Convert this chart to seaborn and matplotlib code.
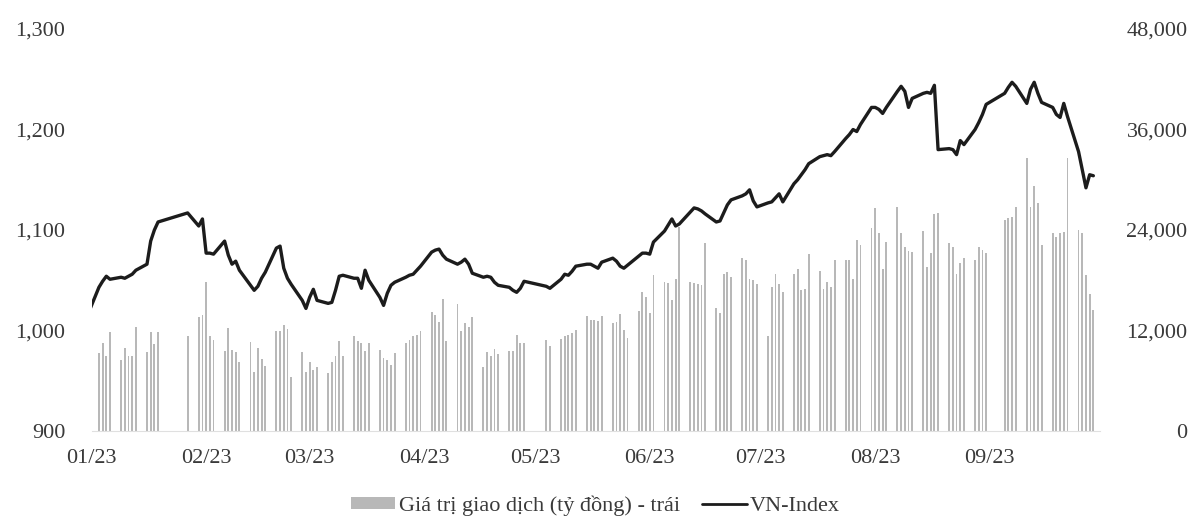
import numpy as np
import pandas as pd
import matplotlib
matplotlib.use("Agg")
import matplotlib.pyplot as plt
from matplotlib.patches import Patch
from matplotlib.lines import Line2D
import seaborn as sns

# ---------------- data ----------------
holidays = ["2023-01-20", "2023-01-23", "2023-01-24", "2023-01-25", "2023-01-26",
            "2023-05-01", "2023-05-02", "2023-05-03", "2023-09-01", "2023-09-04"]
start_date = "2023-01-03"
end_date = "2023-09-29"
prev_date = "2022-12-30"
prev_index = 1007

vnindex_jan = [1043, 1049, 1054, 1051, 1053, 1052, 1054, 1056, 1060, 1066, 1089, 1100, 1108, 1117, 1104, 1111]
vnindex_feb = [1077, 1077, 1076, 1089, 1075, 1066, 1069, 1060, 1045, 1040, 1044, 1052, 1058, 1082, 1084, 1062,
               1052, 1046, 1030, 1022]
vnindex_mar = [1033, 1041, 1030, 1027, 1028, 1040, 1054, 1055, 1052, 1052, 1042, 1060, 1050, 1033, 1025, 1037,
               1045, 1048, 1053, 1055, 1056, 1060, 1064]
vnindex_apr = [1078, 1080, 1081, 1075, 1071, 1066, 1068, 1071, 1066, 1057, 1053, 1054, 1053, 1048, 1045, 1043,
               1040, 1038, 1042, 1049]
vnindex_may = [1044, 1042, 1051, 1056, 1055, 1059, 1064, 1066, 1066, 1064, 1062, 1068, 1072, 1069, 1064, 1062,
               1065, 1074, 1077, 1077]
vnindex_jun = [1076, 1088, 1099, 1105, 1111, 1104, 1106, 1118, 1122, 1121, 1119, 1116, 1108, 1109, 1117, 1125,
               1130, 1134, 1136, 1140, 1129, 1123]
vnindex_jul = [1127, 1128, 1132, 1136, 1128, 1146, 1150, 1155, 1160, 1166, 1173, 1174, 1175, 1174, 1178, 1191,
               1195, 1200, 1198, 1205, 1222]
vnindex_aug = [1222, 1220, 1216, 1222, 1238, 1243, 1238, 1222, 1231, 1236, 1237, 1236, 1244, 1180, 1181, 1180,
               1175, 1189, 1185, 1200, 1207, 1215, 1225]
vnindex_sep = [1236, 1242, 1247, 1243, 1226, 1240, 1247, 1236, 1227, 1222, 1215, 1212, 1226, 1213, 1178, 1160,
               1142, 1155, 1154]

value_jan = [9300, 10500, 9000, 11800, 8500, 9900, 9000, 8900, 12400, 9400, 11800, 10400, 11800, 11400, 13600, 13800]
value_feb = [17800, 11300, 10900, 9600, 12300, 9700, 9400, 8300, 10600, 7000, 9900, 8600, 7800, 11900, 12000,
             12600, 12200, 6400, 9400, 7000]
value_mar = [8300, 7300, 7600, 6900, 8300, 8900, 10700, 8900, 11300, 10700, 10500, 9500, 10500, 9700, 8700, 8500,
             7900, 9300, 10500, 10900, 11300, 11500, 11900]
value_apr = [14200, 13800, 13000, 15800, 10700, 15200, 11900, 12900, 12400, 13600, 7600, 9400, 9000, 9800, 9200,
             9500, 9500, 11500, 10500, 10500]
value_may = [10900, 10200, 11000, 11300, 11500, 11700, 12100, 13700, 13200, 13200, 13100, 13700, 12900, 13000,
             14000, 12100, 11100, 14300, 16600, 16000]
value_jun = [14100, 18600, 17800, 17700, 15600, 18200, 24400, 17800, 17700, 17600, 17400, 22500, 14700, 14100,
             18800, 19000, 18400, 20600, 20400, 18200, 18000, 17600]
value_jul = [11300, 17200, 18800, 17600, 16600, 18800, 19400, 16800, 17000, 21100, 19100, 17000, 17800, 17200,
             20400, 20400, 20400, 18200, 22800, 22200, 24200]
value_aug = [26600, 23600, 19400, 22600, 26800, 23600, 22000, 21500, 21400, 23900, 19600, 21200, 25900, 26000,
             22500, 22000, 18800, 20100, 20600, 20400, 22000, 21600, 21200]
value_sep = [25200, 25400, 25600, 26800, 32600, 26800, 29200, 27200, 22200, 23600, 23200, 23600, 23800, 32600,
             24000, 23600, 18600, 16400, 14400]

left_ticks = [900, 1000, 1100, 1200, 1300]
right_ticks = [0, 12000, 24000, 36000, 48000]
month_ticks = ["2023-01-01", "2023-02-01", "2023-03-01", "2023-04-01", "2023-05-01",
               "2023-06-01", "2023-07-01", "2023-08-01", "2023-09-01"]
bar_label = "Giá trị giao dịch (tỷ đồng) - trái"
line_label = "VN-Index"

# ---------------- assemble ----------------
dates = pd.bdate_range(start_date, end_date)
dates = dates[~dates.isin(pd.to_datetime(holidays))]
vnindex = (vnindex_jan + vnindex_feb + vnindex_mar + vnindex_apr + vnindex_may +
           vnindex_jun + vnindex_jul + vnindex_aug + vnindex_sep)
values = (value_jan + value_feb + value_mar + value_apr + value_may +
          value_jun + value_jul + value_aug + value_sep)
assert len(dates) == len(vnindex) == len(values), (len(dates), len(vnindex), len(values))

line_df = pd.DataFrame({
    "date": [pd.Timestamp(prev_date)] + list(dates),
    "index": [prev_index] + vnindex,
})

# ---------------- style ----------------
sns.set_theme(style="white")
plt.rcParams["font.family"] = ["Liberation Serif", "DejaVu Serif"]
text_color = "#3a3a3a"
bar_color = "#b8b8b8"
line_color = "#1c1c1c"
fs = 16

fig = plt.figure(figsize=(11.98, 5.22), dpi=100)
ax = fig.add_axes([0.0764, 0.1743, 0.8418, 0.7701])   # left axis: VN-Index
ax_bar = ax.twinx()                                     # right axis: trading value

ax_bar.bar(dates, values, width=0.5, color=bar_color, linewidth=0, zorder=1)
sns.lineplot(data=line_df, x="date", y="index", ax=ax, color=line_color,
             linewidth=2.4, zorder=3, legend=False)

ax.set_zorder(ax_bar.get_zorder() + 1)
ax.patch.set_visible(False)

x0 = pd.Timestamp("2023-01-01")
x1 = x0 + pd.Timedelta(days=272.8)
ax.set_xlim(x0, x1)
ax.set_ylim(900, 1300)
ax_bar.set_ylim(0, 48000)

ax.set_yticks(left_ticks, [f"{v:,.0f}" for v in left_ticks])
ax_bar.set_yticks(right_ticks, [f"{v:,.0f}" for v in right_ticks], ha="right")

mt = pd.to_datetime(month_ticks)
ax.set_xticks(mt, [d.strftime("%m/%y") for d in mt])

ax.set_xlabel("")
ax.set_ylabel("")
ax_bar.set_ylabel("")

ax.tick_params(axis="y", length=0, pad=19, labelsize=fs, labelcolor=text_color)
ax.tick_params(axis="x", length=0, pad=13, labelsize=fs, labelcolor=text_color)
ax_bar.tick_params(axis="y", length=0, pad=63, labelsize=fs, labelcolor=text_color)

for a in (ax, ax_bar):
    for s in ("top", "left", "right"):
        a.spines[s].set_visible(False)
    a.grid(False)
ax.spines["bottom"].set_color("#e0e0e0")
ax.spines["bottom"].set_linewidth(0.8)
ax_bar.spines["bottom"].set_visible(False)

handles = [Patch(facecolor=bar_color, edgecolor="none"),
           Line2D([], [], color=line_color, linewidth=2.0)]
leg = fig.legend(handles, [bar_label, line_label], loc="center",
                 bbox_to_anchor=(0.497, 0.032), ncol=2, frameon=False,
                 fontsize=fs, handlelength=2.0, handleheight=0.45,
                 handletextpad=0.15, columnspacing=1.0)
for t in leg.get_texts():
    t.set_color(text_color)

fig.savefig("out.png", dpi=100)
